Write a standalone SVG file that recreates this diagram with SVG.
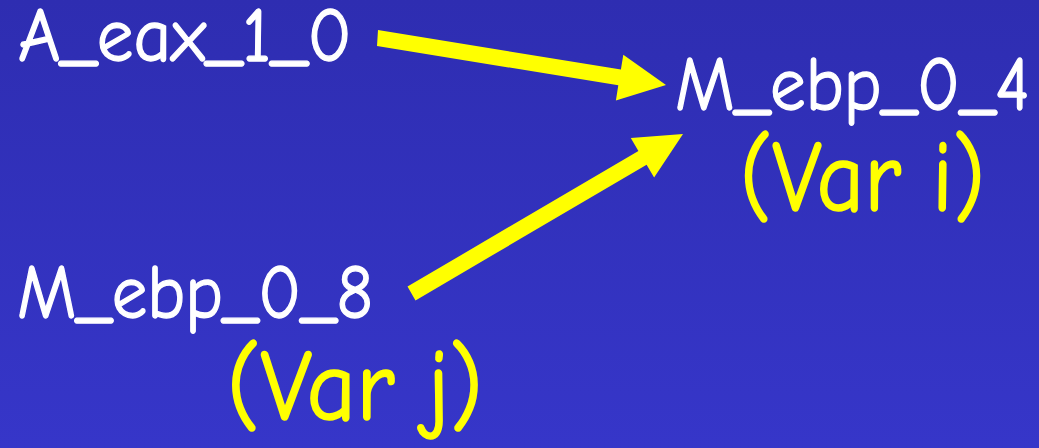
<svg xmlns="http://www.w3.org/2000/svg" width="1039" height="448" viewBox="0 0 1039 448">
<defs>
<linearGradient id="bg" x1="0" y1="0" x2="0" y2="1">
<stop offset="0" stop-color="#2E2DB1"/>
<stop offset="1" stop-color="#3636C9"/>
</linearGradient>
<style>
.lbl{font-family:"Comic Sans MS","Comic Neue","DejaVu Sans",sans-serif;fill:#FFFFFF;stroke:#FFFFFF;stroke-width:1.3px;font-size:76px}
.var{font-family:"Comic Sans MS","Comic Neue","DejaVu Sans",sans-serif;fill:#FFFF00;stroke:#FFFF00;stroke-width:1.6px;font-size:102px}
.arrow{fill:#FFFF00;stroke:none}
</style>
</defs>
<rect x="0" y="0" width="1039" height="448" fill="url(#bg)"/>
<g id="connectors">
<polygon class="arrow" points="378,30 377,46 618.3,85.3 615.9,100.5 666,85 623.3,54.7 620.9,69.5"/>
<polygon class="arrow" points="407.5,286.6 415.5,300.4 646.6,164.7 654.1,177.6 683,134 630.8,138 638.4,150.9"/>
</g>
<g id="node-A_eax_1_0">
<text class="lbl" x="18" y="61" textLength="334" lengthAdjust="spacingAndGlyphs">A_eax_1_0</text>
</g>
<g id="node-M_ebp_0_4">
<text class="lbl" x="675" y="110" textLength="355" lengthAdjust="spacingAndGlyphs">M_ebp_0_4</text>
<text class="var" x="740" y="211" textLength="245" lengthAdjust="spacingAndGlyphs">(Var i)</text>
</g>
<g id="node-M_ebp_0_8">
<text class="lbl" x="17" y="318" textLength="356" lengthAdjust="spacingAndGlyphs">M_ebp_0_8</text>
<text class="var" x="227" y="420" textLength="256" lengthAdjust="spacingAndGlyphs">(Var j)</text>
</g>
</svg>
